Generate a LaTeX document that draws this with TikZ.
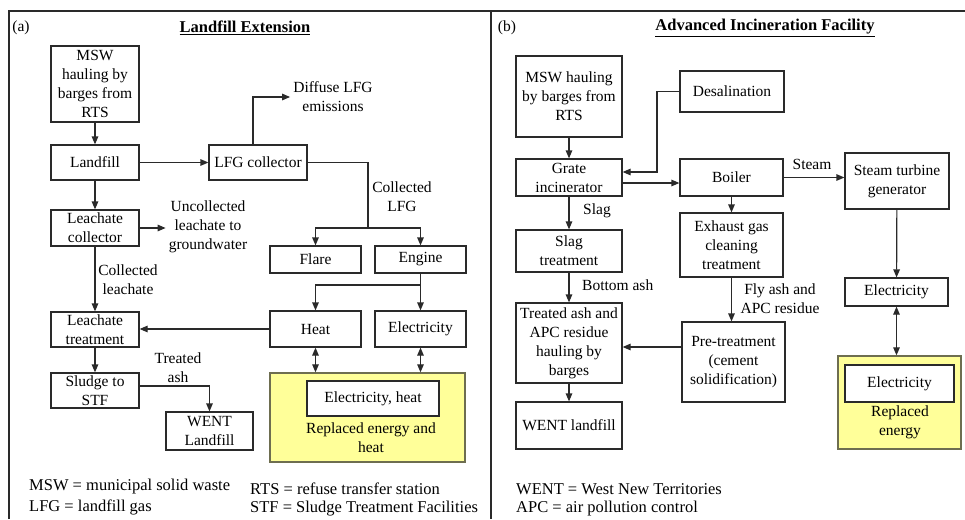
\documentclass[tikz,border=0pt]{standalone}
\usepackage{fontspec}
\setmainfont{Liberation Serif}
\usetikzlibrary{arrows.meta}
\definecolor{linegray}{HTML}{2A2A2A}
\definecolor{replfill}{HTML}{FFFF99}
\definecolor{replline}{HTML}{6E6E50}

\begin{document}
\begin{tikzpicture}[x=1pt, y=-1pt, font=\rmfamily\fontsize{15.5}{19}\selectfont, text=black, every text node part/.style={align=center},
  box/.style 2 args={draw=linegray, line width=1.2pt, fill=white, inner sep=0pt, minimum width=#1pt, minimum height=#2pt},
  repl/.style 2 args={draw=replline, line width=1.3pt, fill=replfill, inner sep=0pt, minimum width=#1pt, minimum height=#2pt},
  lbl/.style={inner sep=3pt},
  title/.style={inner sep=0pt, font=\rmfamily\fontsize{16.5}{20}\selectfont\bfseries},
  key/.style={anchor=west, inner sep=0pt, font=\rmfamily\fontsize{16.5}{20}\selectfont},
  flow/.style={draw=linegray, line width=1.2pt, -{Triangle[length=8pt,width=6.5pt]}},
  both/.style={flow, {Triangle[length=8pt,width=6.5pt]}-{Triangle[length=8pt,width=6.5pt]}}]
\useasboundingbox (0,0) rectangle (965,519);

% frames
\draw[linegray, line width=1.5pt] (9,519) -- (9,11) -- (965,11);
\draw[linegray, line width=1.3pt] (491,11) -- (491,519);

% (a) landfill extension
\node[lbl] (tagA) at (21,28) {(a)};
\node[title] (titleA) at (245,28) {\underline{Landfill Extension}};

\node[box={88}{76}] (msw) at (95,84) {MSW\\hauling by\\barges from\\RTS};
\node[box={88}{35}] (landfill) at (95,162.5) {Landfill};
\node[box={98}{35}] (lfgCollector) at (258,162.5) {LFG collector};
\node[box={88}{36}] (leachCollector) at (95,228) {Leachate\\collector};
\node[box={91}{27}] (flare) at (315.5,259.5) {Flare};
\node[box={91}{27}] (engine) at (420.5,259.5) {Engine};
\node[box={91}{36}] (heat) at (315.5,329) {Heat};
\node[box={91}{36}] (elecA) at (420.5,329) {Electricity};
\node[box={88}{35}] (leachTreat) at (95,329.5) {Leachate\\treatment};
\node[box={88}{35}] (sludge) at (95,390.5) {Sludge to\\STF};
\node[box={87}{38}] (wentA) at (209.5,431) {WENT\\Landfill};
\node[repl={195}{89}] (replA) at (367.5,417.5) {};
\node[box={132}{35}] (elecHeat) at (373,398.5) {Electricity, heat};
\node[lbl] (replTextA) at (371,438) {Replaced energy and\\heat};

\node[lbl] (diffuse) at (333,97) {Diffuse LFG\\emissions};
\node[lbl] (uncollected) at (208,227) {Uncollected\\leachate to\\groundwater};
\node[lbl] (collLfg) at (402,197) {Collected\\LFG};
\node[lbl] (collLeach) at (128,280) {Collected\\leachate};
\node[lbl] (treatedAshLbl) at (178,368) {Treated\\ash};

\draw[flow] (msw) -- (landfill);
\draw[flow] (landfill) -- (lfgCollector);
\draw[flow] (landfill) -- (leachCollector);
\draw[flow] ([xshift=-5pt]lfgCollector.north) |- (diffuse.west);
\draw[flow] (leachCollector.east) -- (leachCollector.east -| uncollected.west);
\coordinate (splitLfg) at (368,228);
\draw[linegray, line width=1.2pt] (lfgCollector.east) -| (splitLfg);
\draw[flow] (splitLfg) -| (flare.north);
\draw[flow] (splitLfg) -| (engine.north);
\draw[flow] (leachCollector) -- (leachTreat);
\coordinate (splitEngine) at (420.5,285);
\draw[flow] (engine) -- (elecA);
\draw[flow] (splitEngine) -| (heat.north);
\draw[flow] (heat.west) -- (heat.west -| leachTreat.east);
\draw[flow] (leachTreat) -- (sludge);
\draw[flow] ([yshift=4.5pt]sludge.east) -| (wentA.north);
\draw[both] (heat) -- (heat |- replA.north);
\draw[both] (elecA) -- (elecA |- replA.north);

\node[key] (keyMsw) at (29,487) {MSW = municipal solid waste};
\node[key] (keyLfg) at (29,507) {LFG = landfill gas};
\node[key] (keyRts) at (250,489) {RTS = refuse transfer station};
\node[key] (keyStf) at (250,509) {STF = Sludge Treatment Facilities};

% (b) advanced incineration facility
\node[lbl] (tagB) at (507,28) {(b)};
\node[title] (titleB) at (765,28) {\underline{Advanced Incineration Facility}};

\node[box={106}{81}] (mswB) at (569,96.5) {MSW hauling\\by barges from\\RTS};
\node[box={104}{41}] (desal) at (732,91.5) {Desalination};
\node[box={106}{37}] (grate) at (569,177.5) {Grate\\incinerator};
\node[box={103}{37}] (boiler) at (731.5,177.5) {Boiler};
\node[box={104}{56}] (steamTurb) at (897,181) {Steam turbine\\generator};
\node[box={103}{64}] (exhaust) at (731.5,245) {Exhaust gas\\cleaning\\treatment};
\node[box={106}{42}] (slagTreat) at (569,251) {Slag\\treatment};
\node[box={106}{80}] (treatedAshB) at (569,343) {Treated ash and\\APC residue\\hauling by\\barges};
\node[box={103}{80}] (preTreat) at (733.5,362) {Pre-treatment\\(cement\\solidification)};
\node[box={106}{47}] (wentB) at (569,425.5) {WENT landfill};
\node[box={103}{28}] (elecB) at (896.5,292) {Electricity};
\node[repl={123}{93}] (replB) at (899.5,402.5) {};
\node[box={109}{37}] (elecInner) at (899.5,383.5) {Electricity};
\node[lbl] (replTextB) at (900,422) {Replaced\\energy};

\node[lbl] (steamLbl) at (812,164) {Steam};
\node[lbl, anchor=west, inner sep=0pt] (slagLbl) at (583,211) {Slag};
\node[lbl, anchor=west, inner sep=0pt] (bottomAsh) at (582,285) {Bottom ash};
\node[lbl] (flyAsh) at (780,299) {Fly ash and\\APC residue};

\draw[flow] (mswB) -- (grate);
\coordinate (desalBend) at (657,172);
\draw[flow] (desal.west) -| (desalBend) -- (desalBend -| grate.east);
\draw[flow] ([yshift=-5.5pt]grate.east) -- ([yshift=-5.5pt]grate.east -| boiler.west);
\draw[flow] (boiler.east) -- (boiler.east -| steamTurb.west);
\draw[flow] (boiler) -- (exhaust);
\draw[flow] (grate) -- (slagTreat);
\draw[flow] (slagTreat) -- (treatedAshB);
\draw[flow] (exhaust.south) -- (exhaust.south |- preTreat.north);
\draw[flow] ([yshift=-4pt]preTreat.west |- treatedAshB.east) -- ([yshift=-4pt]treatedAshB.east);
\draw[flow] (treatedAshB) -- (wentB);
\draw[flow] (steamTurb) -- (elecB);
\draw[both] (elecB) -- (elecB |- replB.north);

\node[key] (keyWent) at (516,489) {WENT = West New Territories};
\node[key] (keyApc) at (516,509) {APC = air pollution control};
\end{tikzpicture}
\end{document}
